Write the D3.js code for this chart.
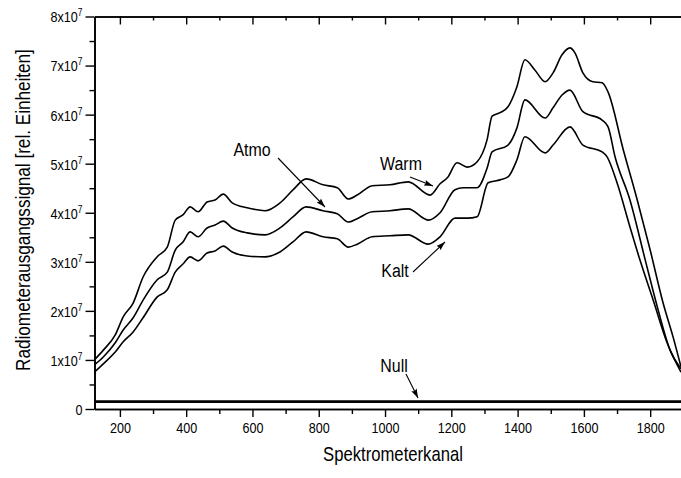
<!DOCTYPE html>
<html>
<head>
<meta charset="utf-8">
<script src="https://cdn.jsdelivr.net/npm/d3@7"></script>
<style>
  html, body { margin: 0; padding: 0; background: #fff; }
  svg { display: block; }
  text { font-family: "Liberation Sans", Arial, sans-serif; fill: #000; }
</style>
</head>
<body>
<svg id="chart" width="681" height="478"></svg>
<script>
// ---- data (signal values in units of 1e7) ----
const warmChannels = [123,150,186,210,240,270,312,343,367,391,412,436,463,487,512,539,584,614,638,683,723,762,813,856,889,916,961,1015,1070,1136,1166,1190,1217,1248,1278,1308,1323,1347,1371,1398,1422,1452,1483,1507,1534,1558,1573,1597,1627,1655,1673,1719,1761,1800,1839,1869,1893];
const warmValues   = [1.00,1.20,1.51,1.88,2.16,2.69,3.10,3.30,3.85,3.96,4.12,4.02,4.22,4.26,4.38,4.20,4.10,4.06,4.04,4.20,4.47,4.69,4.57,4.51,4.28,4.36,4.55,4.57,4.63,4.36,4.59,4.73,5.02,4.93,5.04,5.49,5.97,6.04,6.16,6.57,7.12,6.91,6.67,6.85,7.22,7.36,7.26,6.85,6.67,6.65,6.46,5.28,4.26,3.24,2.16,1.47,0.86];

const atmoChannels = [123,150,186,210,240,270,312,343,367,391,412,436,463,487,512,539,584,638,683,723,762,813,856,889,916,961,1015,1070,1130,1166,1211,1236,1278,1308,1323,1371,1398,1422,1483,1507,1534,1558,1597,1655,1673,1694,1739,1785,1824,1860,1893];
const atmoValues   = [0.90,1.06,1.35,1.61,1.86,2.22,2.63,2.79,3.24,3.41,3.61,3.51,3.69,3.75,3.83,3.69,3.59,3.55,3.69,3.92,4.12,4.04,3.98,3.81,3.88,4.02,4.04,4.08,3.85,4.00,4.47,4.51,4.51,4.91,5.24,5.38,5.73,6.30,5.93,6.14,6.40,6.50,6.06,5.89,5.75,5.14,4.26,3.04,2.02,1.20,0.82];

const kaltChannels = [123,150,186,210,240,270,312,343,367,391,412,436,463,487,512,539,584,638,683,723,762,813,856,889,916,961,1015,1070,1130,1166,1211,1248,1278,1311,1347,1371,1398,1422,1483,1507,1558,1597,1655,1670,1700,1739,1769,1809,1851,1893];
const kaltValues   = [0.75,0.92,1.16,1.37,1.57,1.86,2.28,2.43,2.79,2.96,3.10,3.02,3.18,3.22,3.32,3.20,3.12,3.10,3.20,3.41,3.61,3.51,3.47,3.30,3.36,3.51,3.53,3.55,3.36,3.51,3.89,3.89,3.92,4.61,4.67,4.73,5.08,5.55,5.22,5.38,5.75,5.38,5.24,5.14,4.61,3.71,3.04,2.22,1.35,0.75];

const nullChannels = [123,1893];
const nullValues   = [0.15,0.15];

const xMajorTicks = [200,400,600,800,1000,1200,1400,1600,1800];
const xMinorTicks = [300,500,700,900,1100,1300,1500,1700];
const yMajorTicks = [0,1,2,3,4,5,6,7,8];
const yMinorTicks = [0.5,1.5,2.5,3.5,4.5,5.5,6.5,7.5];

const xTitle = "Spektrometerkanal";
const yTitle = "Radiometerausgangssignal [rel. Einheiten]";

const annotations = [
  {label: "Atmo", tx: 252, ty: 156, x1: 278, y1: 158, x2: 325, y2: 207},
  {label: "Warm", tx: 401, ty: 170, x1: 410, y1: 177, x2: 433, y2: 186},
  {label: "Kalt", tx: 395, ty: 277, x1: 413, y1: 272, x2: 445, y2: 242},
  {label: "Null", tx: 394, ty: 372, x1: 406, y1: 374, x2: 418, y2: 398}
];

// ---- layout ----
const svg = d3.select("#chart");
const pLeft = 94.5, pRight = 681, pTop = 16.5, pBottom = 409;
const NARROW = 0.84;

const x = d3.scaleLinear().domain([123.4, 1893]).range([pLeft, pRight]);
const y = d3.scaleLinear().domain([0, 8]).range([pBottom, pTop]);

const defs = svg.append("defs");
defs.append("clipPath").attr("id", "clip")
  .append("rect").attr("x", pLeft).attr("y", pTop).attr("width", pRight - pLeft).attr("height", pBottom - pTop);

defs.append("marker")
  .attr("id", "arrow").attr("viewBox", "0 0 12 8").attr("refX", 12).attr("refY", 4)
  .attr("markerWidth", 12).attr("markerHeight", 6).attr("markerUnits", "userSpaceOnUse")
  .attr("orient", "auto")
  .append("path").attr("d", "M0,0 L12,4 L0,8 L2,4 z").attr("fill", "#000");

// ---- axes ----
function styleAxis(g) {
  g.selectAll("path.domain").attr("stroke", "#000").attr("stroke-width", 1.6);
  g.selectAll(".tick line").attr("stroke", "#000").attr("stroke-width", 1.4);
}

svg.append("g").attr("transform", `translate(0,${pBottom})`)
  .call(d3.axisBottom(x).tickValues(xMinorTicks).tickSize(5).tickSizeOuter(0).tickFormat(""))
  .call(styleAxis);
const bx = svg.append("g").attr("transform", `translate(0,${pBottom})`)
  .call(d3.axisBottom(x).tickValues(xMajorTicks).tickSize(8).tickSizeOuter(0).tickPadding(5).tickFormat(d3.format("d")))
  .call(styleAxis);
bx.selectAll(".tick text")
  .attr("font-size", 15).attr("font-family", '"Liberation Sans", Arial, sans-serif').attr("fill", "#000")
  .attr("transform", `scale(${NARROW},1)`);

svg.append("g").attr("transform", `translate(0,${pTop})`)
  .call(d3.axisBottom(x).tickValues(xMinorTicks).tickSize(4).tickSizeOuter(0).tickFormat(""))
  .call(styleAxis);
svg.append("g").attr("transform", `translate(0,${pTop})`)
  .call(d3.axisBottom(x).tickValues(xMajorTicks).tickSize(8).tickSizeOuter(0).tickFormat(""))
  .call(styleAxis);

svg.append("g").attr("transform", `translate(${pLeft},0)`)
  .call(d3.axisLeft(y).tickValues(yMinorTicks).tickSize(5).tickSizeOuter(0).tickFormat(""))
  .call(styleAxis);
const ly = svg.append("g").attr("transform", `translate(${pLeft},0)`)
  .call(d3.axisLeft(y).tickValues(yMajorTicks).tickSize(9).tickSizeOuter(0).tickFormat(""))
  .call(styleAxis);
ly.selectAll(".tick text").remove();
ly.selectAll(".tick").each(function(d) {
  const t = d3.select(this).append("text")
    .attr("transform", `translate(-12,0) scale(${NARROW},1)`)
    .attr("x", 0).attr("y", 0).attr("dy", "0.36em")
    .attr("text-anchor", "end").attr("font-size", 15).attr("fill", "#000")
    .attr("font-family", '"Liberation Sans", Arial, sans-serif');
  if (d === 0) {
    t.text("0");
  } else {
    t.append("tspan").text(d + "x10");
    t.append("tspan").attr("dy", "-0.6em").attr("font-size", 10).text("7");
  }
});

// ---- series ----
const line = d3.line().x(d => x(d[0])).y(d => y(d[1])).curve(d3.curveMonotoneX);
const plot = svg.append("g").attr("clip-path", "url(#clip)");
const series = [
  [warmChannels, warmValues, 1.6],
  [atmoChannels, atmoValues, 1.6],
  [kaltChannels, kaltValues, 1.6],
  [nullChannels, nullValues, 2.8]
];
series.forEach(([cx, cy, w]) => {
  plot.append("path")
    .datum(cx.map((c, i) => [c, cy[i]]))
    .attr("fill", "none").attr("stroke", "#000").attr("stroke-width", w)
    .attr("stroke-linejoin", "round")
    .attr("d", line);
});

// ---- annotations ----
annotations.forEach(a => {
  svg.append("text")
    .attr("transform", `translate(${a.tx},${a.ty}) scale(${NARROW},1)`)
    .attr("text-anchor", "middle").attr("font-size", 19).text(a.label);
  svg.append("line")
    .attr("x1", a.x1).attr("y1", a.y1).attr("x2", a.x2).attr("y2", a.y2)
    .attr("stroke", "#000").attr("stroke-width", 1.1)
    .attr("marker-end", "url(#arrow)");
});

// ---- titles ----
const xt = svg.append("text").attr("text-anchor", "middle").attr("font-size", 20).text(xTitle);
const xtLen = xt.node().getComputedTextLength() || 167;
xt.attr("transform", `translate(393,461) scale(${140 / xtLen},1)`);

const yt = svg.append("text").attr("text-anchor", "middle").attr("font-size", 20).text(yTitle);
const ytLen = yt.node().getComputedTextLength() || 376;
yt.attr("transform", `translate(30,210) rotate(-90) scale(${322 / ytLen},1)`);
</script>
</body>
</html>
